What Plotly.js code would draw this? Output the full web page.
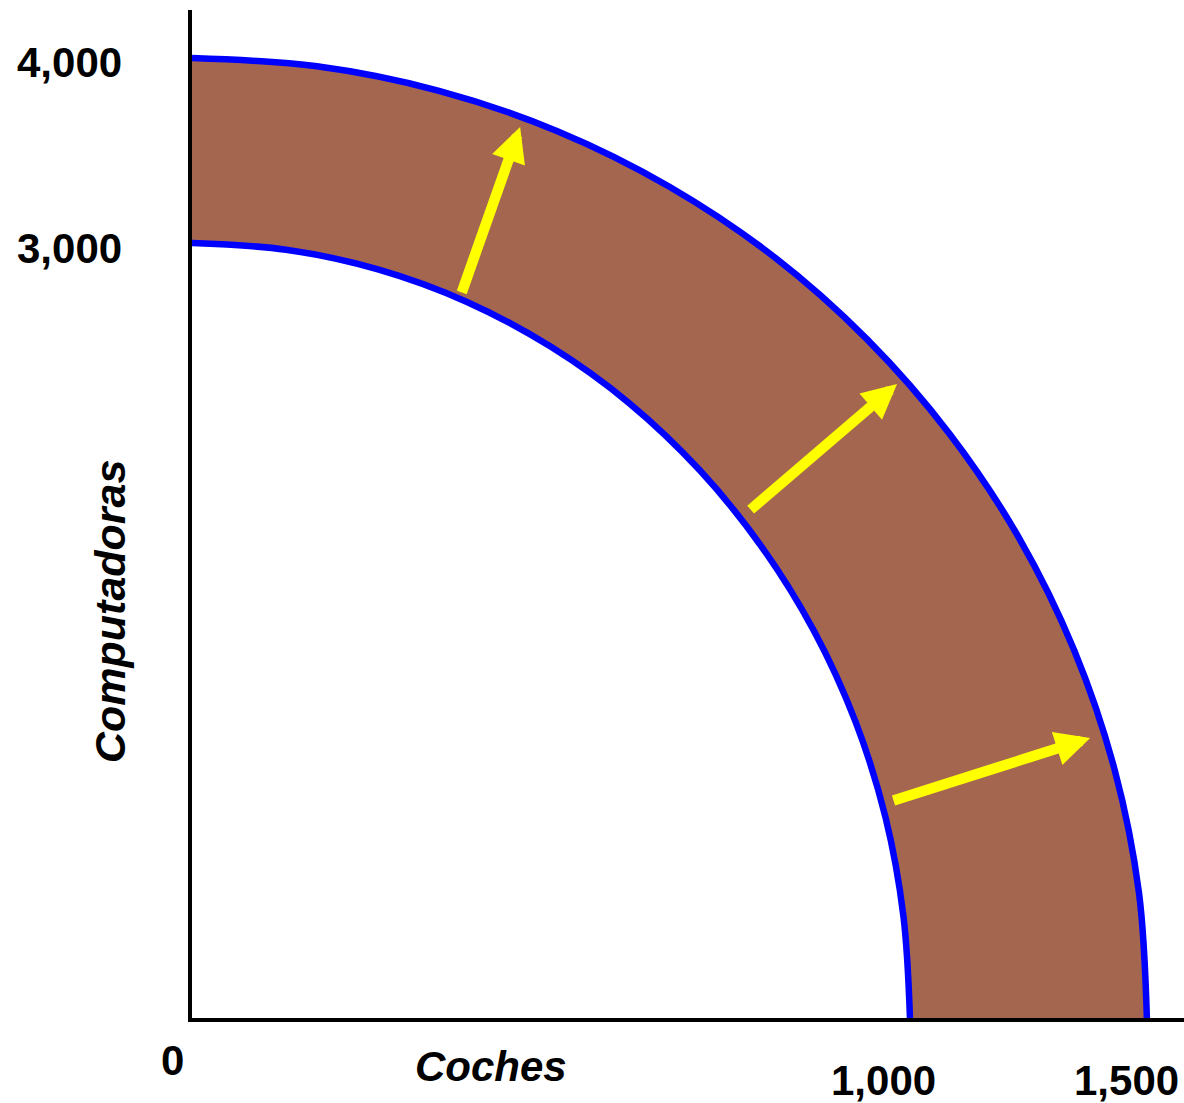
<!DOCTYPE html>
<html>
<head>
<meta charset="utf-8">
<script src="https://cdn.plot.ly/plotly-3.0.1.min.js"></script>
<style>
  html, body { margin: 0; padding: 0; background: #ffffff; }
  #chart { width: 1184px; height: 1103px; }
</style>
</head>
<body>
<div id="chart"></div>
<script>
// Frontera de posibilidades de producción inicial (schematic axis units)
var innerCoches        = [0, 131, 259, 383, 500, 609, 707, 793, 866, 924, 966, 991, 1000];
var innerComputadoras  = [3000, 2974, 2898, 2772, 2598, 2380, 2121, 1826, 1500, 1148, 776, 392, 0];
// Frontera desplazada hacia fuera
var outerCoches        = [0, 174, 344, 509, 665, 810, 940, 1055, 1152, 1229, 1285, 1319, 1330];
var outerComputadoras  = [3716, 3684, 3589, 3433, 3218, 2948, 2628, 2262, 1858, 1422, 962, 485, 0];

// Flechas del desplazamiento (inicio en la frontera inicial, punta cerca de la nueva)
var arrowStartCoches       = [375, 776, 975];
var arrowStartComputadoras = [2803, 1963, 840];
var arrowEndCoches         = [457, 982, 1251];
var arrowEndComputadoras   = [3449, 2454, 1084];

// Etiquetas de los ejes
var xTickVals   = [0, 1000, 1330];
var xTickLabels = ['0', '1,000', '1,500'];
var yTickVals   = [3000, 3716];
var yTickLabels = ['3,000', '4,000'];
var xTitle = 'Coches';
var yTitle = 'Computadoras';

var BLUE = '#0000FF';
var FILL = '#A5664F';
var FONT = 'Liberation Sans, Arial, Helvetica, sans-serif';

var traces = [
  {
    x: innerCoches, y: innerComputadoras,
    mode: 'lines', type: 'scatter',
    line: {color: BLUE, width: 6.5, shape: 'spline', smoothing: 1},
    hoverinfo: 'skip', showlegend: false
  },
  {
    x: outerCoches, y: outerComputadoras,
    mode: 'lines', type: 'scatter',
    fill: 'tonexty', fillcolor: FILL,
    line: {color: BLUE, width: 6.5, shape: 'spline', smoothing: 1},
    hoverinfo: 'skip', showlegend: false
  }
];

var annotations = [];
for (var i = 0; i < arrowEndCoches.length; i++) {
  annotations.push({
    x: arrowEndCoches[i], y: arrowEndComputadoras[i],
    ax: arrowStartCoches[i], ay: arrowStartComputadoras[i],
    xref: 'x', yref: 'y', axref: 'x', ayref: 'y',
    text: '', showarrow: true,
    arrowhead: 2, arrowsize: 0.66, arrowwidth: 10.5,
    arrowcolor: '#FFFF00', standoff: 0
  });
}
var xShifts = [-20, -26, -20];
var xYShifts = [-42, -62, -62];
for (var j = 0; j < xTickVals.length; j++) {
  annotations.push({
    x: xTickVals[j], y: 0, xref: 'x', yref: 'paper',
    text: '<b>' + xTickLabels[j] + '</b>', showarrow: false,
    xanchor: 'center', yanchor: 'middle',
    xshift: xShifts[j], yshift: xYShifts[j],
    font: {family: FONT, size: 42, color: '#000000'}
  });
}
var yYShifts = [-5, -4];
for (var k = 0; k < yTickVals.length; k++) {
  annotations.push({
    x: 0, y: yTickVals[k], xref: 'paper', yref: 'y',
    text: '<b>' + yTickLabels[k] + '</b>', showarrow: false,
    xanchor: 'right', yanchor: 'middle',
    xshift: -68, yshift: yYShifts[k],
    font: {family: FONT, size: 42, color: '#000000'}
  });
}
annotations.push({
  x: (491 - 192) / 992, y: 0, xref: 'paper', yref: 'paper',
  text: '<b><i>' + xTitle + '</i></b>', showarrow: false,
  xanchor: 'center', yanchor: 'middle', yshift: -48,
  font: {family: FONT, size: 42, color: '#000000'}
});
annotations.push({
  x: 0, y: (1018 - 612) / 1008, xref: 'paper', yref: 'paper',
  text: '<b><i>' + yTitle + '</i></b>', showarrow: false, textangle: -90,
  xanchor: 'center', yanchor: 'middle', xshift: -82,
  font: {family: FONT, size: 43, color: '#000000'}
});

var layout = {
  width: 1184, height: 1103,
  margin: {l: 192, r: 0, t: 10, b: 85, pad: 0},
  paper_bgcolor: '#ffffff', plot_bgcolor: '#ffffff',
  showlegend: false,
  xaxis: {
    range: [0, 1381.7], showgrid: false, zeroline: false,
    showline: true, linecolor: '#000000', linewidth: 4,
    showticklabels: false, ticks: '', fixedrange: true
  },
  yaxis: {
    range: [0, 3902], showgrid: false, zeroline: false,
    showline: true, linecolor: '#000000', linewidth: 4,
    showticklabels: false, ticks: '', fixedrange: true
  },
  annotations: annotations
};

Plotly.newPlot('chart', traces, layout, {staticPlot: true, displayModeBar: false});
</script>
</body>
</html>
